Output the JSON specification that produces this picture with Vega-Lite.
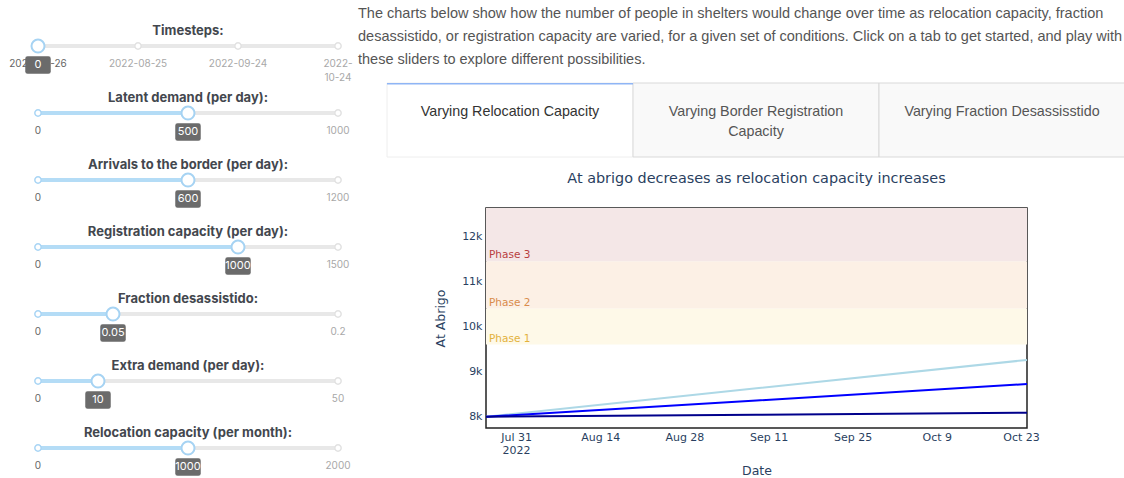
{
  "$schema": "https://vega.github.io/schema/vega-lite/v6.json",
  "background": "white",
  "padding": {"left": 9, "top": 3, "right": 0, "bottom": 0},
  "config": {"view": {"stroke": null}, "font": "Inter"},
  "datasets": {
    "sliders": [
      {"slider": "Timesteps:", "kind": "tick", "pos": 0, "label": "2022-07-26"},
      {"slider": "Timesteps:", "kind": "tick", "pos": 30, "label": "2022-08-25"},
      {"slider": "Timesteps:", "kind": "tick", "pos": 60, "label": "2022-09-24"},
      {"slider": "Timesteps:", "kind": "tick", "pos": 90, "label": "2022-\n10-24"},
      {"slider": "Timesteps:", "kind": "value", "pos": 0, "label": "0"},
      {"slider": "Latent demand (per day):", "kind": "tick", "pos": 0, "label": "0"},
      {"slider": "Latent demand (per day):", "kind": "tick", "pos": 1000, "label": "1000"},
      {"slider": "Latent demand (per day):", "kind": "value", "pos": 500, "label": "500"},
      {"slider": "Arrivals to the border (per day):", "kind": "tick", "pos": 0, "label": "0"},
      {"slider": "Arrivals to the border (per day):", "kind": "tick", "pos": 1200, "label": "1200"},
      {"slider": "Arrivals to the border (per day):", "kind": "value", "pos": 600, "label": "600"},
      {"slider": "Registration capacity (per day):", "kind": "tick", "pos": 0, "label": "0"},
      {"slider": "Registration capacity (per day):", "kind": "tick", "pos": 1500, "label": "1500"},
      {"slider": "Registration capacity (per day):", "kind": "value", "pos": 1000, "label": "1000"},
      {"slider": "Fraction desassistido:", "kind": "tick", "pos": 0, "label": "0"},
      {"slider": "Fraction desassistido:", "kind": "tick", "pos": 0.2, "label": "0.2"},
      {"slider": "Fraction desassistido:", "kind": "value", "pos": 0.05, "label": "0.05"},
      {"slider": "Extra demand (per day):", "kind": "tick", "pos": 0, "label": "0"},
      {"slider": "Extra demand (per day):", "kind": "tick", "pos": 50, "label": "50"},
      {"slider": "Extra demand (per day):", "kind": "value", "pos": 10, "label": "10"},
      {"slider": "Relocation capacity (per month):", "kind": "tick", "pos": 0, "label": "0"},
      {"slider": "Relocation capacity (per month):", "kind": "tick", "pos": 2000, "label": "2000"},
      {"slider": "Relocation capacity (per month):", "kind": "value", "pos": 1000, "label": "1000"}
    ],
    "paragraph": [
      {"line": 1, "text": "The charts below show how the number of people in shelters would change over time as relocation capacity, fraction"},
      {"line": 2, "text": "desassistido, or registration capacity are varied, for a given set of conditions. Click on a tab to get started, and play with"},
      {"line": 3, "text": "these sliders to explore different possibilities."}
    ],
    "tabs": [
      {"tab": "relocation", "label": "Varying Relocation Capacity", "state": "active"},
      {"tab": "registration", "label": "Varying Border Registration\nCapacity", "state": "inactive"},
      {"tab": "fraction", "label": "Varying Fraction Desassisstido", "state": "inactive"}
    ],
    "shelter": [
      {"relocation": "500", "date": "2022-07-26", "at_abrigo": 8000},
      {"relocation": "500", "date": "2022-09-09", "at_abrigo": 8630},
      {"relocation": "500", "date": "2022-10-24", "at_abrigo": 9260},
      {"relocation": "1000", "date": "2022-07-26", "at_abrigo": 8000},
      {"relocation": "1000", "date": "2022-09-09", "at_abrigo": 8360},
      {"relocation": "1000", "date": "2022-10-24", "at_abrigo": 8725},
      {"relocation": "1500", "date": "2022-07-26", "at_abrigo": 8000},
      {"relocation": "1500", "date": "2022-09-09", "at_abrigo": 8045},
      {"relocation": "1500", "date": "2022-10-24", "at_abrigo": 8090}
    ],
    "phases": [
      {"phase": "Phase 1", "lo": 9600, "hi": 10400},
      {"phase": "Phase 2", "lo": 10400, "hi": 11450},
      {"phase": "Phase 3", "lo": 11450, "hi": 13000}
    ]
  },
  "spacing": 5,
  "hconcat": [
    {
      "data": {"name": "sliders"},
      "facet": {
        "row": {
          "field": "slider",
          "type": "nominal",
          "sort": ["Timesteps:", "Latent demand (per day):", "Arrivals to the border (per day):", "Registration capacity (per day):", "Fraction desassistido:", "Extra demand (per day):", "Relocation capacity (per month):"],
          "header": {"title": null, "labels": false}
        }
      },
      "spacing": {"row": 0},
      "bounds": "flush",
      "resolve": {"scale": {"x": "independent"}},
      "spec": {
        "width": 300,
        "height": 66.67,
        "layer": [
          {
            "transform": [{"filter": "datum.kind == 'value'"}],
            "mark": {"type": "text", "baseline": "middle", "dy": -5.3, "font": "Inter", "fontSize": 13, "fontWeight": "bold", "color": "#43474e"},
            "encoding": {"text": {"field": "slider"}}
          },
          {
            "transform": [{"filter": "datum.kind == 'tick'"}],
            "mark": {"type": "line", "color": "#e8e8e8", "strokeWidth": 4, "strokeCap": "round", "yOffset": 9.7},
            "encoding": {"x": {"field": "pos", "type": "quantitative", "axis": null, "scale": {"nice": false, "zero": false}}}
          },
          {
            "transform": [{"filter": "datum.kind == 'value'"}],
            "mark": {"type": "rule", "color": "#b4dcf6", "strokeWidth": 4, "strokeCap": "round", "yOffset": 9.7},
            "encoding": {"x": {"field": "pos", "type": "quantitative"}, "x2": {"datum": 0}}
          },
          {
            "transform": [{"filter": "datum.kind == 'tick'"}],
            "mark": {"type": "point", "filled": true, "fill": "white", "size": 40, "strokeWidth": 1.5, "opacity": 1, "yOffset": 9.7},
            "encoding": {
              "x": {"field": "pos", "type": "quantitative"},
              "stroke": {"condition": {"test": "datum.pos == 0", "value": "#a9d5f5"}, "value": "#e2e2e2"}
            }
          },
          {
            "transform": [{"filter": "datum.kind == 'tick'"}],
            "mark": {"type": "text", "baseline": "top", "dy": 22.5, "fontSize": 10, "font": "Inter", "lineBreak": "\n", "lineHeight": 14},
            "encoding": {
              "x": {"field": "pos", "type": "quantitative"},
              "text": {"field": "label"},
              "color": {"condition": {"test": "datum.pos == 0", "value": "#666666"}, "value": "#a8a8a8"}
            }
          },
          {
            "transform": [{"filter": "datum.kind == 'value'"}],
            "mark": {"type": "point", "filled": true, "fill": "white", "stroke": "#a6d3f3", "strokeWidth": 2, "size": 170, "opacity": 1, "yOffset": 9.7},
            "encoding": {"x": {"field": "pos", "type": "quantitative"}}
          },
          {
            "transform": [{"filter": "datum.kind == 'value'"}],
            "mark": {"type": "point", "filled": true, "color": "#6b6b6b", "opacity": 1, "size": 650, "yOffset": 28.7, "shape": "M-0.82,-0.68 L0.82,-0.68 Q1,-0.68 1,-0.5 L1,0.5 Q1,0.68 0.82,0.68 L-0.82,0.68 Q-1,0.68 -1,0.5 L-1,-0.5 Q-1,-0.68 -0.82,-0.68 Z"},
            "encoding": {"x": {"field": "pos", "type": "quantitative"}}
          },
          {
            "transform": [{"filter": "datum.kind == 'value'"}],
            "mark": {"type": "text", "baseline": "middle", "dy": 28.7, "fontSize": 11, "font": "Inter", "color": "white"},
            "encoding": {"x": {"field": "pos", "type": "quantitative"}, "text": {"field": "label"}}
          }
        ]
      }
    },
    {
      "spacing": 11,
      "resolve": {"scale": {"fill": "independent", "color": "independent", "x": "independent", "y": "independent"}},
      "vconcat": [
        {
          "data": {"name": "paragraph"},
          "width": 639,
          "height": 68,
          "mark": {"type": "text", "align": "left", "baseline": "middle", "dx": -128, "font": "Liberation Sans", "fontSize": 14.5, "color": "#555555"},
          "encoding": {
            "y": {"field": "line", "type": "ordinal", "axis": null},
            "x": {"value": 0},
            "text": {"field": "text"}
          }
        },
        {
          "data": {"name": "tabs"},
          "width": 639,
          "height": 74,
          "layer": [
            {
              "mark": {"type": "rect", "strokeWidth": 1},
              "encoding": {
                "x": {"field": "tab", "type": "nominal", "sort": null, "axis": null, "scale": {"paddingInner": 0, "paddingOuter": 0, "range": [-99, 639]}},
                "fill": {"field": "state", "type": "nominal", "scale": {"domain": ["active", "inactive"], "range": ["#ffffff", "#f9f9f9"]}, "legend": null},
                "stroke": {"condition": {"test": "datum.state == 'active'", "value": "#eeeeee"}, "value": "#d9d9d9"}
              }
            },
            {
              "transform": [{"filter": "datum.state == 'active'"}],
              "mark": {"type": "rect", "color": "#8fb5f5"},
              "encoding": {
                "x": {"field": "tab", "type": "nominal", "sort": null},
                "y": {"value": 0},
                "y2": {"value": 1.5}
              }
            },
            {
              "mark": {"type": "text", "baseline": "top", "dy": -15, "lineBreak": "\n", "fontSize": 14.3, "font": "Liberation Sans", "lineHeight": 20},
              "encoding": {
                "x": {"field": "tab", "type": "nominal", "sort": null},
                "text": {"field": "label"},
                "color": {"condition": {"test": "datum.state == 'active'", "value": "#333333"}, "value": "#555555"}
              }
            }
          ]
        },
        {
          "width": 541,
          "height": 220,
          "view": {"stroke": "#222222", "strokeWidth": 1.5},
          "title": {"text": "At abrigo decreases as relocation capacity increases", "font": "DejaVu Sans", "fontSize": 14.4, "fontWeight": "normal", "color": "#2a3f5f", "offset": 22, "anchor": "middle", "frame": "group"},
          "layer": [
            {
              "data": {"name": "phases"},
              "mark": {"type": "rect", "clip": true},
              "encoding": {
                "y": {"field": "lo", "type": "quantitative", "scale": {"domain": [7750, 12630], "nice": false, "zero": false},
                  "axis": {"title": "At Abrigo", "values": [8000, 9000, 10000, 11000, 12000], "format": "~s", "grid": false, "ticks": false, "domain": false,
                    "labelFont": "DejaVu Sans", "labelFontSize": 11, "labelColor": "#2a3f5f", "labelPadding": 4,
                    "titleFont": "DejaVu Sans", "titleFontSize": 12.5, "titleFontWeight": "normal", "titleColor": "#2a3f5f", "titleX": -39}},
                "y2": {"field": "hi"},
                "fill": {"field": "phase", "type": "nominal", "scale": {"domain": ["Phase 1", "Phase 2", "Phase 3"], "range": ["#fef9e8", "#fcf0e5", "#f4e7e7"]}, "legend": null}
              }
            },
            {
              "data": {"name": "phases"},
              "mark": {"type": "text", "align": "left", "baseline": "bottom", "dx": 3, "dy": -1, "font": "DejaVu Sans", "fontSize": 10.5},
              "encoding": {
                "x": {"datum": {"year": 2022, "month": 7, "date": 26, "utc": true}, "type": "temporal"},
                "y": {"field": "lo", "type": "quantitative"},
                "text": {"field": "phase"},
                "color": {"field": "phase", "type": "nominal", "scale": {"domain": ["Phase 1", "Phase 2", "Phase 3"], "range": ["#e3b23c", "#d98c4c", "#b8403f"]}, "legend": null}
              }
            },
            {
              "data": {"name": "shelter"},
              "mark": {"type": "line", "strokeWidth": 2},
              "encoding": {
                "x": {"field": "date", "type": "temporal",
                  "scale": {"type": "utc", "domain": [{"year": 2022, "month": 7, "date": 26, "utc": true}, {"year": 2022, "month": 10, "date": 24, "utc": true}]},
                  "axis": {"title": "Date", "values": [
                      {"year": 2022, "month": 7, "date": 31, "utc": true},
                      {"year": 2022, "month": 8, "date": 14, "utc": true},
                      {"year": 2022, "month": 8, "date": 28, "utc": true},
                      {"year": 2022, "month": 9, "date": 11, "utc": true},
                      {"year": 2022, "month": 9, "date": 25, "utc": true},
                      {"year": 2022, "month": 10, "date": 9, "utc": true},
                      {"year": 2022, "month": 10, "date": 23, "utc": true}],
                    "labelExpr": "datum.index == 0 ? [utcFormat(datum.value, '%b %-d'), '2022'] : utcFormat(datum.value, '%b %-d')",
                    "grid": false, "ticks": false, "domain": false, "labelFlush": false, "labelOverlap": false,
                    "labelFont": "DejaVu Sans", "labelFontSize": 11, "labelColor": "#2a3f5f", "labelPadding": 3, "labelLineHeight": 13,
                    "titleFont": "DejaVu Sans", "titleFontSize": 12.5, "titleFontWeight": "normal", "titleColor": "#2a3f5f", "titlePadding": 9}},
                "y": {"field": "at_abrigo", "type": "quantitative"},
                "color": {"field": "relocation", "type": "nominal", "scale": {"domain": ["500", "1000", "1500"], "range": ["#add8e6", "#0000ff", "#00008b"]}, "legend": null}
              }
            }
          ],
          "resolve": {"scale": {"color": "independent"}}
        }
      ]
    }
  ]
}
